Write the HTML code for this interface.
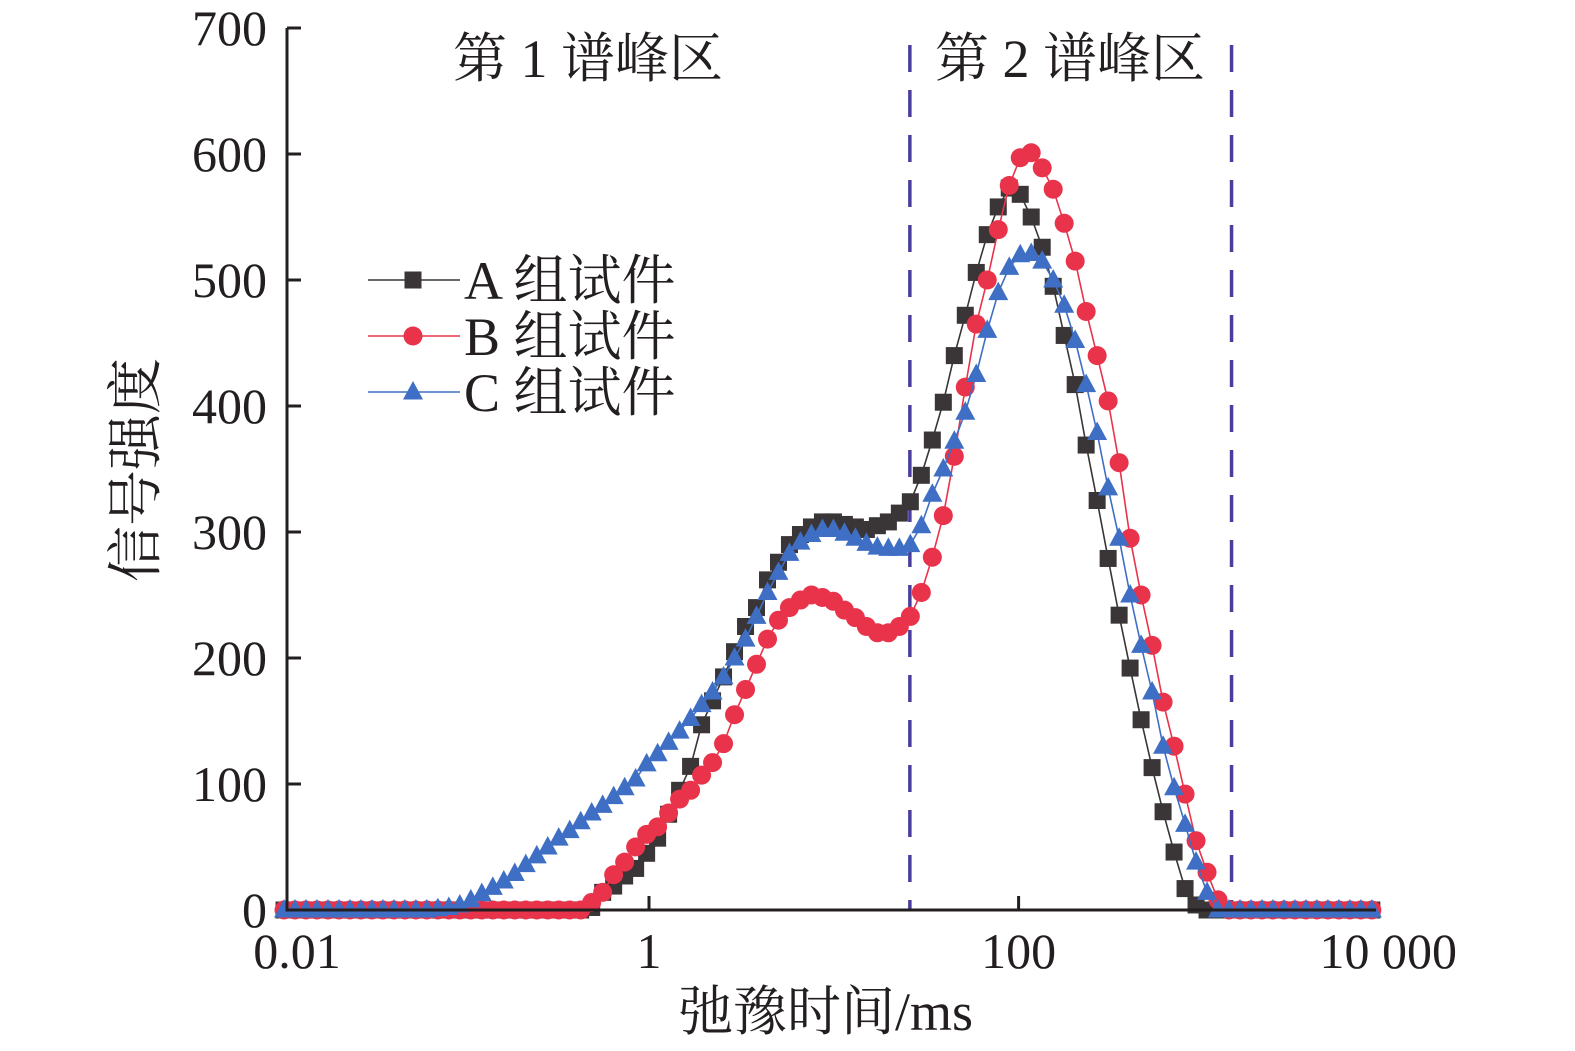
<!DOCTYPE html>
<html><head><meta charset="utf-8">
<style>
html,body{margin:0;padding:0;background:#fff;}
svg{display:block;}
text{font-family:"Liberation Serif","Noto Serif CJK SC","Noto Sans CJK SC",serif;fill:#231f20;}
</style></head>
<body>
<svg id="chart" width="1575" height="1051" viewBox="0 0 1575 1051" xmlns="http://www.w3.org/2000/svg">
<g id="plot"></g>
</svg>
<script>
const seriesNames = ["A 组试件", "B 组试件", "C 组试件"];
const yTicks = [0, 100, 200, 300, 400, 500, 600, 700];
const xTickLabels = ["0.01", "1", "100", "10 000"];
const xTickValues = [0.01, 1, 100, 10000];
const regionBounds = [25.8, 1420];
const regionLabels = ["第 1 谱峰区", "第 2 谱峰区"];
const valuesA = [0,0,0,0,0,0,0,0,0,0,0,0,0,0,0,0,0,0,0,0,0,0,0,0,0,0,0,0,
2,14,19,27,33,45,57,76,95,114,147,166,185,205,225,240,262,276,290,298,304,308,308,306,304,302,305,308,315,324,345,373,403,440,472,506,536,558,573,568,550,526,495,456,417,369,325,279,234,192,151,113,78,46,17,4,
0,0,0,0,0,0,0,0,0,0,0,0,0,0,0,0];
const valuesB = [0,0,0,0,0,0,0,0,0,0,0,0,0,0,0,0,0,0,0,0,0,0,0,0,0,0,0,0,
6,14,28,38,50,60,66,77,88,95,107,117,132,155,175,195,215,230,240,246,250,248,245,238,232,225,220,220,225,233,252,280,313,360,415,465,500,540,575,597,601,589,572,545,515,475,440,404,355,295,250,210,165,130,92,55,30,8,
0,0,0,0,0,0,0,0,0,0,0,0,0,0];
const valuesC = [0,0,0,0,0,0,0,0,0,0,0,0,0,
0,1,2,4,8,13,18,23,29,36,43,50,57,63,70,77,83,90,97,104,116,124,133,142,152,163,173,185,200,215,233,252,268,283,292,298,302,302,299,295,291,288,287,287,290,305,330,350,372,395,425,460,490,510,520,521,515,500,480,452,417,379,335,295,250,210,173,130,97,68,38,14,0,
0,0,0,0,0,0,0,0,0,0,0,0,0,0];

const NS = "http://www.w3.org/2000/svg";
const g = document.getElementById("plot");
function mk(tag, attrs, parent) {
  const e = document.createElementNS(NS, tag);
  for (const k in attrs) e.setAttribute(k, attrs[k]);
  (parent || g).appendChild(e);
  return e;
}
const X0 = 649, DEC = 184.8;
function xs(t) { return X0 + Math.log10(t) * DEC; }
function ys(v) { return 910 - v * 1.26; }
const times = [];
for (let i = 0; i < valuesA.length; i++) times.push(Math.pow(10, -1.975 + 0.05946 * i));

regionBounds.forEach((t, i) => {
  const l = mk("line", {x1: xs(t), x2: xs(t), y1: 45, y2: 910, stroke: "#4a3e9c", "stroke-width": 3.5, "stroke-dasharray": "27 18"});
  
  
});
const regX = [588, 1070];
regionLabels.forEach((s, i) => {
  const t = mk("text", {x: regX[i], y: 77, "font-size": 54, "text-anchor": "middle"});
  t.textContent = s;
  
  
});

const styles = [
  {c: "#3a3536", m: "square", vals: valuesA},
  {c: "#e8334a", m: "circle", vals: valuesB},
  {c: "#3f6fc4", m: "triangle", vals: valuesC}
];
function marker(type, x, y, c, parent) {
  if (type === "square") return mk("rect", {x: x - 8.5, y: y - 8.5, width: 17, height: 17, fill: c}, parent);
  if (type === "circle") return mk("circle", {cx: x, cy: y, r: 9.5, fill: c}, parent);
  return mk("polygon", {points: `${x},${y - 11} ${x - 10},${y + 7.5} ${x + 10},${y + 7.5}`, fill: c}, parent);
}
styles.forEach((s, si) => {
  const grp = mk("g", {});
  
  
  const pts = s.vals.map((v, i) => xs(times[i]).toFixed(1) + "," + ys(v).toFixed(1)).join(" ");
  const pl = mk("polyline", {points: pts, fill: "none", stroke: s.c, "stroke-width": 1.6}, grp);
  
  
  s.vals.forEach((v, i) => {
    const m = marker(s.m, xs(times[i]), ys(v), s.c, grp);
    
    
  });
});

const ax = mk("path", {d: "M287,28 L287,910 L1376,910", fill: "none", stroke: "#231f20", "stroke-width": 3});


yTicks.forEach(v => {
  const tk = mk("line", {x1: 287, x2: 301, y1: ys(v), y2: ys(v), stroke: "#231f20", "stroke-width": 3});
  
  
  const t = mk("text", {x: 267, y: ys(v) + 17, "font-size": 50, "text-anchor": "end"});
  t.textContent = v;
  
  
});
xTickValues.forEach((v, i) => {
  if (i > 0 && i < 3) {
    const tk = mk("line", {x1: xs(v), x2: xs(v), y1: 910, y2: 896, stroke: "#231f20", "stroke-width": 3});
    
    
  }
  const xp = i === 0 ? 297 : xs(v);
  const t = mk("text", {x: xp, y: 968, "font-size": 50, "text-anchor": "middle"});
  t.textContent = xTickLabels[i];
  
  
});
const xt = mk("text", {x: 826, y: 1030, "font-size": 54, "text-anchor": "middle"});
xt.textContent = "弛豫时间/ms";


const yt = mk("text", {x: 0, y: 0, "font-size": 56, "text-anchor": "middle", transform: "translate(155,470) rotate(-90)"});
yt.textContent = "信号强度";



const legY = [280, 336, 392];
styles.forEach((s, i) => {
  const lg = mk("g", {});
  
  
  mk("line", {x1: 368, x2: 460, y1: legY[i], y2: legY[i], stroke: s.c, "stroke-width": 1.6}, lg);
  marker(s.m, 413, legY[i], s.c, lg);
  const t = mk("text", {x: 464, y: legY[i] + 19, "font-size": 54}, lg);
  t.textContent = seriesNames[i];
});
</script>
</body></html>
